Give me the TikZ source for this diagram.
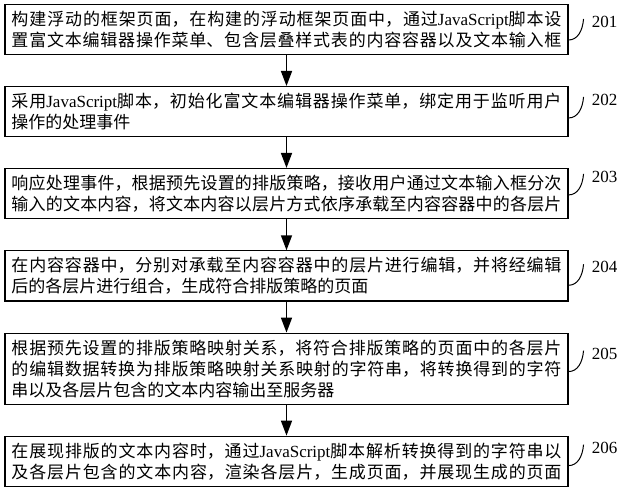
\documentclass[tikz,border=0pt]{standalone}
\usepackage{fontspec}
\setmainfont{Liberation Serif}
\newfontfamily\cjk{Noto Sans CJK SC}
\usetikzlibrary{positioning,arrows.meta}
\XeTeXlinebreaklocale "zh"
\XeTeXlinebreakskip=0pt plus 4pt
\newcommand{\js}{{\rmfamily JavaScript}}

\begin{document}
\begin{tikzpicture}[x=1pt,y=1pt,
  stepbox/.style={draw, line width=1.1pt, text width=550pt, inner xsep=6.5pt, inner ysep=6.5pt, align=justify, font=\cjk\fontsize{17}{21}\selectfont},
  fullbox/.style={stepbox, execute at begin node={\parfillskip=0pt}},
  numlabel/.style={font=\fontsize{17}{20}\selectfont},
  flow/.style={-{Triangle[width=11pt,length=15pt]}, line width=1.6pt},
  bracket/.style={line width=1pt}]
  \useasboundingbox (0,0) rectangle (625,-500);
  %Nodes
  \node[fullbox, anchor=north] (box201) at (286.5,-4) {构建浮动的框架页面，在构建的浮动框架页面中，通过\js 脚本设\linebreak 置富文本编辑器操作菜单、包含层叠样式表的内容容器以及文本输入框};
  \node[stepbox] (box202) [below=31pt of box201] {采用\js 脚本，初始化富文本编辑器操作菜单，绑定用于监听用户\linebreak 操作的处理事件};
  \node[fullbox] (box203) [below=31pt of box202] {响应处理事件，根据预先设置的排版策略，接收用户通过文本输入框分次\linebreak 输入的文本内容，将文本内容以层片方式依序承载至内容容器中的各层片};
  \node[stepbox] (box204) [below=31pt of box203] {在内容容器中，分别对承载至内容容器中的层片进行编辑，并将经编辑\linebreak 后的各层片进行组合，生成符合排版策略的页面};
  \node[stepbox] (box205) [below=31pt of box204] {根据预先设置的排版策略映射关系，将符合排版策略的页面中的各层片\linebreak 的编辑数据转换为排版策略映射关系映射的字符串，将转换得到的字符\linebreak 串以及各层片包含的文本内容输出至服务器};
  \node[fullbox] (box206) [below=31pt of box205] {在展现排版的文本内容时，通过\js 脚本解析转换得到的字符串以\linebreak 及各层片包含的文本内容，渲染各层片，生成页面，并展现生成的页面};
  %Arrows
  \foreach \a/\b in {201/202,202/203,203/204,204/205,205/206}
    \draw[flow] (box\a.south) -- (box\b.north);
  %Step numbers
  \foreach \n/\d in {201/18,202/14,203/9,204/17,205/21,206/12} {
    \node[numlabel] (lab\n) at ([xshift=36pt,yshift={-\d}]box\n.north east) {\n};
    \draw[bracket] ([yshift={-(\d+18)}]box\n.north east) .. controls +(9,0) and +(-1,-12) .. ([xshift=15pt,yshift={-(\d-3)}]box\n.north east);
  }
\end{tikzpicture}
\end{document}
